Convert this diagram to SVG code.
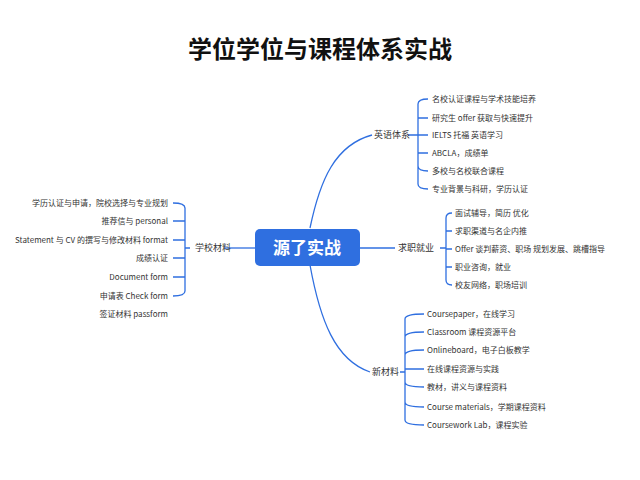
<svg xmlns="http://www.w3.org/2000/svg" width="640" height="480" viewBox="0 0 640 480">
<style>
text{font-family:"Noto Sans CJK SC","Liberation Sans",sans-serif;fill:#333}
.t{font-size:8px}
.b{font-size:9px}
.c{fill:none;stroke:#2f6fe0;stroke-width:1.3}
</style>
<rect width="640" height="480" fill="#fff"/>
<text x="320" y="58" text-anchor="middle" style="font-size:24px;font-weight:bold;fill:#111">学位学位与课程体系实战</text>
<g id="connectors">
<path class="c" d="M310 228 C320 180 335 145 372 135"/>
<path class="c" d="M360 248 L395 248"/>
<path class="c" d="M310 265 C320 320 335 360 370 372"/>
<path class="c" d="M255 248 L225 248"/>
<path class="c" d="M408 135 L418 135 M418 104 V184 M418 104 Q418 99 428 99 M418 118 L428 118 M418 135 L428 135 M418 153 L428 153 M418 166 Q418 171 428 171 M418 184 Q418 189 428 189"/>
<path class="c" d="M440 248 L446 248 M446 218 V280 M446 218 Q446 213 452 213 M446 231 L452 231 M446 249 L452 249 M446 267 L452 267 M446 280 Q446 285 452 285"/>
<path class="c" d="M400 372 L405 372 M405 319 V420 M405 319 Q405 314 424 314 M405 337 Q405 332 424 332 M405 355 Q405 350 424 350 M405 369 L424 369 M405 382 Q405 387 424 387 M405 402 Q405 407 424 407 M405 420 Q405 425 424 425"/>
<path class="c" d="M190 248 L185 248 M185 208 V291 M185 208 Q185 203 173 203 M185 221 L173 221 M185 240 L173 240 M185 258 L173 258 M185 277 L173 277 M185 291 Q185 296 173 296"/>
</g>
<g id="center"><rect x="255" y="229" width="105" height="37" rx="5" fill="#2f6fe0"/><text x="307" y="254" text-anchor="middle" style="font-size:17px;font-weight:bold;fill:#fff">源了实战</text></g>
<g id="b1"><text class="b" x="374" y="138">英语体系</text></g>
<g id="b2"><text class="b" x="398" y="251">求职就业</text></g>
<g id="b3"><text class="b" x="372" y="375">新材料</text></g>
<g id="b4"><text class="b" x="195" y="251">学校材料</text></g>
<g id="r1" class="t">
<text class="t" x="432" y="102">名校认证课程与学术技能培养</text>
<text class="t" x="432" y="121">研究生 offer 获取与快速提升</text>
<text class="t" x="432" y="138">IELTS 托福 英语学习</text>
<text class="t" x="432" y="156">ABCLA，成绩单</text>
<text class="t" x="432" y="174">多校与名校联合课程</text>
<text class="t" x="432" y="192">专业背景与科研，学历认证</text>
</g>
<g id="r2">
<text class="t" x="455" y="216">面试辅导，简历 优化</text>
<text class="t" x="455" y="234">求职渠道与名企内推</text>
<text class="t" x="455" y="252">Offer 谈判薪资、职场 规划发展、跳槽指导</text>
<text class="t" x="455" y="270">职业咨询，就业</text>
<text class="t" x="455" y="288">校友网络，职场培训</text>
</g>
<g id="r3">
<text class="t" x="427" y="317">Coursepaper，在线学习</text>
<text class="t" x="427" y="335">Classroom 课程资源平台</text>
<text class="t" x="427" y="353">Onlineboard，电子白板教学</text>
<text class="t" x="427" y="372">在线课程资源与实践</text>
<text class="t" x="427" y="390">教材，讲义与课程资料</text>
<text class="t" x="427" y="410">Course materials，学期课程资料</text>
<text class="t" x="427" y="428">Coursework Lab，课程实验</text>
</g>
<g id="l1">
<text class="t" x="168" y="206" text-anchor="end">学历认证与申请，院校选择与专业规划</text>
<text class="t" x="168" y="224" text-anchor="end">推荐信与 personal</text>
<text class="t" x="168" y="243" text-anchor="end">Statement 与 CV 的撰写与修改材料 format</text>
<text class="t" x="168" y="261" text-anchor="end">成绩认证</text>
<text class="t" x="168" y="280" text-anchor="end">Document form</text>
<text class="t" x="168" y="299" text-anchor="end">申请表 Check form</text>
<text class="t" x="168" y="317" text-anchor="end">签证材料 passform</text>
</g>
</svg>
